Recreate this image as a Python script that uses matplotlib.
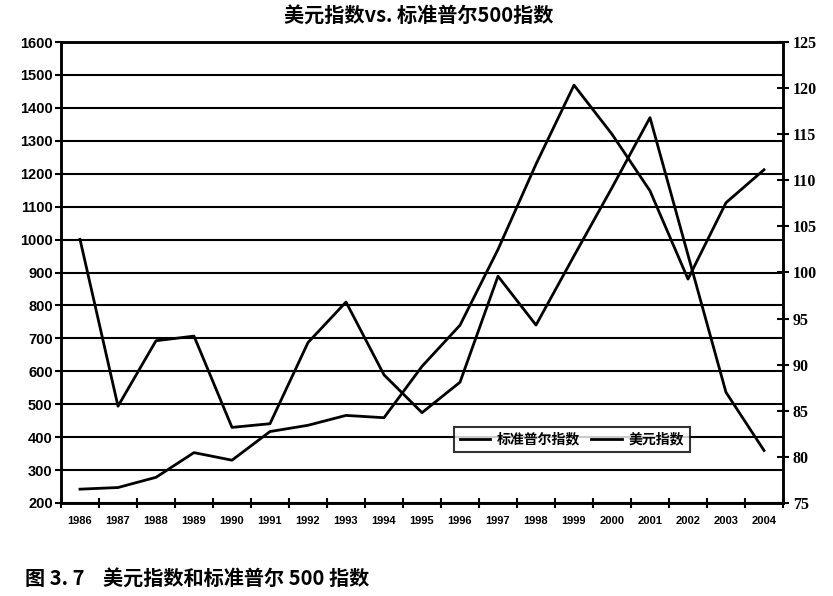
import matplotlib
matplotlib.use("Agg")
import matplotlib.pyplot as plt
import numpy as np
from matplotlib.ticker import MultipleLocator, FixedLocator

plt.rcParams['font.family'] = ['Noto Sans CJK SC', 'DejaVu Sans']

years = ['1986', '1987', '1988', '1989', '1990', '1991', '1992', '1993', '1994', '1995',
         '1996', '1997', '1998', '1999', '2000', '2001', '2002', '2003', '2004']
sp500 = [242, 247, 278, 353, 330, 417, 436, 466, 459, 615,
         740, 970, 1229, 1469, 1320, 1148, 880, 1112, 1212]
usd_index = [103.6, 85.5, 92.6, 93.1, 83.2, 83.6, 92.4, 96.8, 88.9, 84.8,
             88.1, 99.6, 94.3, 101.8, 109.2, 116.8, 101.9, 87.0, 80.7]

title = '美元指数vs. 标准普尔500指数'
caption = '图 3. 7    美元指数和标准普尔 500 指数'
legend_labels = ['标准普尔指数', '美元指数']

fig = plt.figure(figsize=(8.33, 5.96), dpi=100)
ax = fig.add_axes([61/833, 1 - 503/596, (783 - 61)/833, (503 - 42)/596])
ax2 = ax.twinx()

x = np.arange(len(years))
l1, = ax.plot(x, sp500, color='black', lw=2.0)
l2, = ax2.plot(x, usd_index, color='black', lw=2.0)

ax.set_xlim(-0.5, len(years) - 0.5)
ax.set_ylim(200, 1600)
ax2.set_ylim(75, 125)
ax.yaxis.set_major_locator(MultipleLocator(100))
ax2.yaxis.set_major_locator(MultipleLocator(5))
ax.grid(axis='y', color='black', lw=1.5)
ax.set_axisbelow(True)

ax.set_xticks(x)
ax.set_xticklabels(years, fontsize=8, fontweight='bold',
                   family=['Liberation Sans', 'DejaVu Sans'])
ax.xaxis.set_minor_locator(FixedLocator(np.arange(-0.5, len(years), 1.0)))
ax.tick_params(axis='x', which='major', length=0, pad=9)
ax.tick_params(axis='x', which='minor', length=7, direction='inout', width=1.5)

ax.tick_params(axis='y', length=4, width=1.5, direction='out', labelsize=10.5, pad=2)
for lab in ax.get_yticklabels():
    lab.set_family(['Liberation Sans', 'DejaVu Sans'])
    lab.set_fontweight('bold')

ax2.tick_params(axis='y', length=8, width=1.5, direction='inout', labelsize=11.5, pad=3)
for lab in ax2.get_yticklabels():
    lab.set_family(['Liberation Serif', 'DejaVu Serif'])
    lab.set_fontweight('bold')

for a in (ax, ax2):
    for s in a.spines.values():
        s.set_linewidth(1.8)
        s.set_color('black')

leg = ax.legend([l1, l2], legend_labels, loc='upper left',
                bbox_to_anchor=((454 - 61)/722, (503 - 427)/461),
                ncol=2, frameon=True, fancybox=False, edgecolor='black',
                prop={'size': 10, 'weight': 'bold'}, handlelength=2.2,
                handletextpad=0.5, columnspacing=0.8, borderpad=0.4,
                borderaxespad=0)
leg.get_frame().set_linewidth(1.5)
leg.set_zorder(5)

fig.text(0.503, 1 - 15/596, title, ha='center', va='center', fontsize=14.5,
         fontweight='bold')
fig.text(25/833, 1 - 578/596, caption, ha='left', va='center', fontsize=14.5,
         fontweight='bold')

fig.savefig('out.png', dpi=100)
